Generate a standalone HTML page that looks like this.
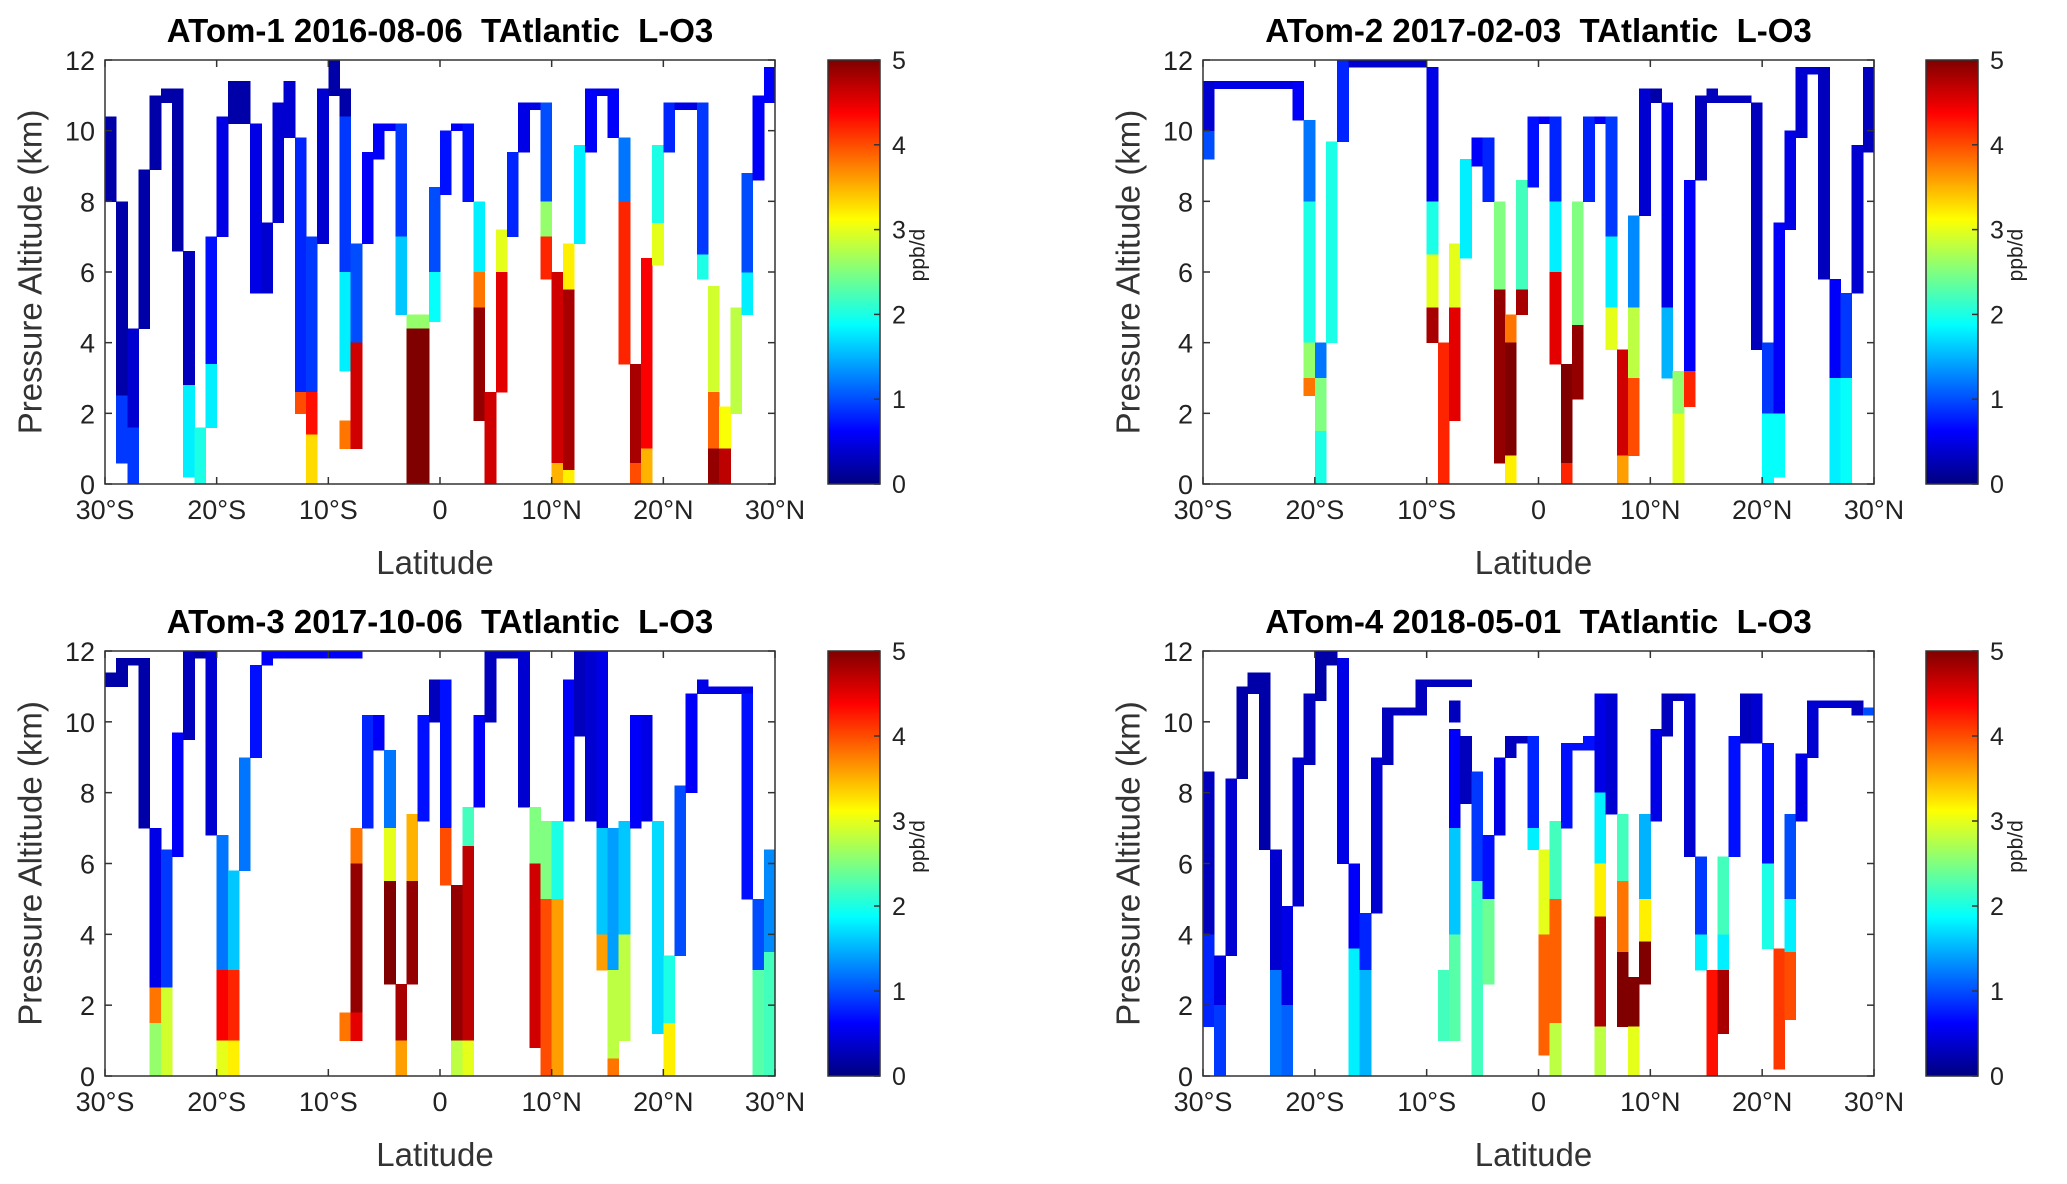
<!DOCTYPE html>
<html><head><meta charset="utf-8"><style>
html,body{margin:0;padding:0;background:#fff;}
svg{display:block;font-family:"Liberation Sans",sans-serif;}
</style></head><body>
<svg id="fig" width="2067" height="1184" viewBox="0 0 2067 1184" xmlns="http://www.w3.org/2000/svg"></svg>
<script>
// Data: segments [lat0, lat1, altBottomKm, altTopKm, ppb/d]
const p1Segs = [
[-30,-29,8.0,10.4,0.2],
[-29,-28,2.5,8.0,0.2],[-29,-28,0.6,2.5,0.9],
[-28,-27,1.6,4.4,0.4],[-28,-27,0,1.6,0.9],
[-27,-26,4.4,8.9,0.2],
[-26,-25,8.9,11.0,0.2],
[-25,-24,10.8,11.2,0.2],
[-24,-23,6.6,11.2,0.2],
[-23,-22,2.8,6.6,0.3],[-23,-22,0.2,2.8,1.8],
[-22,-21,0,1.6,2.0],
[-21,-20,3.4,7.0,0.7],[-21,-20,1.6,3.4,1.8],
[-20,-19,7.0,10.4,0.5],
[-19,-17,10.2,11.4,0.2],
[-17,-16,5.4,10.2,0.5],
[-16,-15,5.4,7.4,0.4],
[-15,-14,7.4,10.8,0.4],
[-14,-13,9.8,11.4,0.4],
[-13,-12,2.6,9.8,0.8],[-13,-12,2.0,2.6,4.0],
[-12,-11,2.6,7.0,0.9],[-12,-11,1.4,2.6,4.3],[-12,-11,0,1.4,3.3],
[-11,-10,6.8,11.2,0.4],
[-10,-9,11.0,12.0,0.2],
[-9,-8,10.4,11.2,0.2],[-9,-8,6,10.4,0.9],[-9,-8,3.2,6,1.8],[-9,-8,1.0,1.8,3.8],
[-8,-7,4.0,6.8,1.0],[-8,-7,1.0,4.0,4.6],
[-7,-6,6.8,9.4,0.6],
[-6,-5,9.2,10.2,0.6],
[-5,-4,10.0,10.2,0.6],
[-4,-3,7,10.2,0.9],[-4,-3,4.8,7,1.6],
[-3,-1,4.4,4.8,2.6],[-3,-1,0,4.4,5],
[-1,0,6,8.4,1.0],[-1,0,4.6,6,1.9],
[0,1,8.2,10.0,0.7],
[1,2,10.0,10.2,0.6],
[2,3,8.0,10.2,0.7],
[3,4,6.0,8.0,1.8],[3,4,5.0,6.0,3.8],[3,4,1.8,5.0,4.9],
[4,5,0,2.6,4.6],
[5,6,6,7.2,3.0],[5,6,2.6,6,4.5],
[6,7,7.0,9.4,0.8],
[7,8,9.4,10.8,0.5],
[8,9,10.6,10.8,0.5],
[9,10,8,10.8,1.0],[9,10,7,8,2.6],[9,10,5.8,7,4.2],
[10,11,0.6,6.0,4.6],[10,11,0,0.6,3.5],
[11,12,5.5,6.8,3.2],[11,12,0.4,5.5,4.8],[11,12,0,0.4,3.2],
[12,13,6.8,9.6,1.8],
[13,14,9.4,11.2,0.6],
[14,15,11.0,11.2,0.5],
[15,16,9.8,11.2,0.6],
[16,17,8,9.8,1.2],[16,17,3.4,8,4.2],
[17,18,0.6,3.4,4.8],[17,18,0,0.6,4.0],
[18,19,1.0,6.4,4.4],[18,19,0,1.0,3.5],
[19,20,6.2,7.4,3.0],[19,20,7.4,9.6,2.0],
[20,21,9.4,10.8,0.8],
[21,23,10.6,10.8,0.5],
[23,24,6.5,10.8,0.9],[23,24,5.8,6.5,2.0],
[24,25,2.6,5.6,2.9],[24,25,1.0,2.6,3.9],[24,25,0,1.0,4.9],
[25,26,1.0,2.2,3.1],[25,26,0,1.0,4.7],
[26,27,2.0,5.0,2.8],
[27,28,4.8,6.0,1.8],[27,28,6,8.8,1.0],
[28,29,8.6,11.0,0.6],
[29,30,10.8,11.8,0.6]
];
const p2Segs = [
[-30,-29,9.2,10,1.0],[-30,-29,10,11.4,0.4],
[-29,-22,11.2,11.4,0.5],
[-22,-21,10.3,11.4,0.6],
[-21,-20,8,10.3,1.2],[-21,-20,4,8,2.0],[-21,-20,3,4,2.6],[-21,-20,2.5,3,3.8],
[-20,-19,3,4.0,1.2],[-20,-19,1.5,3,2.5],[-20,-19,0,1.5,2.0],
[-19,-18,4.0,9.7,2.0],
[-18,-17,9.7,12,0.8],
[-17,-10,11.8,12,0.4],
[-10,-9,8,11.8,0.5],[-10,-9,6.5,8,2.0],[-10,-9,5,6.5,3.0],[-10,-9,4,5,4.8],
[-9,-8,0,4.0,4.2],
[-8,-7,5,6.8,3.0],[-8,-7,1.8,5,4.5],
[-7,-6,6.4,9.2,1.8],
[-6,-5,9.0,9.8,0.6],
[-5,-4,8.0,9.8,0.8],
[-4,-3,5.5,8,2.5],[-4,-3,0.6,5.5,4.9],
[-3,-2,4.0,4.8,3.8],[-3,-2,0.8,4,5],[-3,-2,0,0.8,3.2],
[-2,-1,5.5,8.6,2.2],[-2,-1,4.8,5.5,4.8],
[-1,0,8.4,10.4,0.7],
[0,1,10.2,10.4,0.6],
[1,2,8,10.4,0.8],[1,2,6,8,1.8],[1,2,3.4,6,4.5],
[2,3,0.6,3.4,5],[2,3,0,0.6,4.2],
[3,4,4.5,8.0,2.5],[3,4,2.4,4.5,4.9],
[4,5,8.0,10.4,0.8],
[5,6,10.2,10.4,0.6],
[6,7,7,10.4,0.9],[6,7,5,7,1.8],[6,7,3.8,5,3.0],
[7,8,0.8,3.8,4.6],[7,8,0,0.8,3.6],
[8,9,5,7.6,1.3],[8,9,3,5,2.8],[8,9,0.8,3,4.0],
[9,10,7.6,11.2,0.4],
[10,11,10.8,11.2,0.2],
[11,12,5,10.8,0.5],[11,12,3,5,1.5],
[12,13,2,3.2,2.6],[12,13,0,2,3.0],
[13,14,3.2,8.6,0.6],[13,14,2.2,3.2,4.2],
[14,15,8.6,11.0,0.3],
[15,16,10.8,11.2,0.3],
[16,19,10.8,11.0,0.3],
[19,20,3.8,10.8,0.3],
[20,21,2,4.0,0.9],[20,21,0,2,1.9],
[21,22,2,7.4,0.6],[21,22,0.2,2,1.9],
[22,23,7.2,10.0,0.5],
[23,24,9.8,11.8,0.4],
[24,25,11.6,11.8,0.4],
[25,26,5.8,11.8,0.3],
[26,27,3,5.8,0.6],[26,27,0,3,1.8],
[27,28,3,5.4,0.9],[27,28,0,3,1.9],
[28,29,5.4,9.6,0.4],
[29,30,9.4,11.8,0.3]
];
const p3Segs = [
[-30,-29,11.0,11.4,0.2],
[-29,-28,11.0,11.8,0.2],
[-28,-27,11.6,11.8,0.2],
[-27,-26,7.0,11.8,0.2],
[-26,-25,2.5,7,0.5],[-26,-25,1.5,2.5,3.8],[-26,-25,0,1.5,2.6],
[-25,-24,2.5,6.4,0.9],[-25,-24,0,2.5,2.9],
[-24,-23,6.2,9.7,0.6],
[-23,-22,9.5,12,0.3],
[-22,-21,11.8,12,0.2],
[-21,-20,6.8,12,0.4],
[-20,-19,3,6.8,1.2],[-20,-19,1,3,4.4],[-20,-19,0,1,3.0],
[-19,-18,3,5.8,1.6],[-19,-18,1,3,4.2],[-19,-18,0,1,3.2],
[-18,-17,5.8,9,1.2],
[-17,-16,9,11.6,0.7],
[-16,-15,11.6,12,0.6],
[-15,-7,11.8,12,0.6],
[-9,-8,1.0,1.8,3.8],
[-8,-7,6,7,3.8],[-8,-7,1.8,6,4.9],[-8,-7,1,1.8,4.5],
[-7,-6,7,10.2,0.8],
[-6,-5,9.2,10.2,0.6],
[-5,-4,7,9.2,1.2],[-5,-4,5.5,7,3.0],[-5,-4,2.6,5.5,5],
[-4,-3,1,2.6,4.8],[-4,-3,0,1,3.6],
[-3,-2,5.5,7.4,3.5],[-3,-2,2.6,5.5,4.9],
[-2,-1,7.2,10.2,0.7],
[-1,0,10,11.2,0.3],
[0,1,7,11.2,0.7],[0,1,5.4,7,4.0],
[1,2,1,5.4,4.9],[1,2,0,1,2.8],
[2,3,6.5,7.6,2.2],[2,3,1,6.5,4.7],[2,3,0,1,3.0],
[3,4,7.6,10.2,0.6],
[4,5,10,12,0.3],
[5,7,11.8,12,0.3],
[7,8,7.6,12,0.4],
[8,9,6,7.6,2.5],[8,9,0.8,6,4.6],
[9,10,5,7.2,2.5],[9,10,0,5,4.0],
[10,11,5,7.2,2.0],[10,11,0,5,3.6],
[11,12,7.2,11.2,0.6],
[12,13,9.6,12,0.3],
[13,14,7.2,12,0.4],
[14,15,7,12,0.5],[14,15,4,7,1.6],[14,15,3,4,3.6],
[15,16,3,7,1.4],[15,16,0.5,3,2.8],[15,16,0,0.5,3.8],
[16,17,4,7.2,1.6],[16,17,1,4,2.8],
[17,18,7,10.2,0.6],
[18,19,7.2,10.2,0.5],
[19,20,1.2,7.2,1.7],
[20,21,1.5,3.4,2.0],[20,21,0,1.5,3.2],
[21,22,3.4,8.2,1.0],
[22,23,8,10.8,0.6],
[23,24,10.8,11.2,0.5],
[24,28,10.8,11.0,0.5],
[27,28,5,10.8,0.7],
[28,29,3,5,1.0],[28,29,0,3,2.3],
[29,30,3.5,6.4,1.3],[29,30,0,3.5,2.2]
];
const p4Segs = [
[-30,-29,4,8.6,0.3],[-30,-29,1.4,4,0.8],
[-29,-28,2,3.4,0.5],[-29,-28,0,2,0.9],
[-28,-27,3.4,8.4,0.4],
[-27,-26,8.4,11.0,0.2],
[-26,-25,10.8,11.4,0.2],
[-25,-24,6.4,11.4,0.2],
[-24,-23,3,6.4,0.4],[-24,-23,0,3,1.2],
[-23,-22,2,4.8,0.5],[-23,-22,0,2,1.1],
[-22,-21,4.8,9,0.4],
[-21,-20,8.8,10.8,0.3],
[-20,-19,10.6,12,0.2],
[-19,-18,11.6,12,0.2],
[-18,-17,6,11.8,0.5],
[-17,-16,3.6,6,0.6],[-17,-16,0,3.6,1.8],
[-16,-15,3,4.6,0.8],[-16,-15,0,3,1.5],
[-15,-14,4.6,9,0.4],
[-14,-13,8.8,10.4,0.3],
[-13,-11,10.2,10.4,0.3],
[-11,-10,10.2,11.2,0.3],
[-10,-6,11.0,11.2,0.3],
[-9,-8,1.0,3.0,2.2],
[-8,-7,10,10.6,0.3],[-8,-7,7,9.8,0.6],[-8,-7,4,7,1.6],[-8,-7,1,4,2.3],
[-7,-6,7.7,9.6,0.3],
[-6,-5,5.5,8.6,0.9],[-6,-5,0,5.5,2.2],
[-5,-4,5,6.8,0.7],[-5,-4,2.6,5,2.4],
[-4,-3,6.8,9.0,0.5],
[-3,-2,9.0,9.6,0.3],
[-2,-1,9.4,9.6,0.3],
[-1,0,7,9.6,0.8],[-1,0,6.4,7,1.8],
[0,1,4,6.4,3.0],[0,1,0.6,4,3.9],
[1,2,5,7.2,2.2],[1,2,1.5,5,3.9],[1,2,0,1.5,2.8],
[2,3,7,9.4,0.7],
[3,4,9.2,9.4,0.7],
[4,5,9.2,9.6,0.7],
[5,6,8,10.8,0.5],[5,6,6,8,1.8],[5,6,4.5,6,3.2],[5,6,1.4,4.5,4.8],[5,6,0,1.4,2.8],
[6,7,7.4,10.8,0.4],
[7,8,5.5,7.4,2.2],[7,8,3.5,5.5,3.8],[7,8,1.4,3.5,5],
[8,9,1.4,2.8,5],[8,9,0,1.4,3.0],
[9,10,5,7.4,1.5],[9,10,3.8,5,3.2],[9,10,2.6,3.8,5],
[10,11,7.2,9.8,0.5],
[11,12,9.6,10.8,0.3],
[12,13,10.6,10.8,0.3],
[13,14,6.2,10.8,0.4],
[14,15,4,6.2,0.9],[14,15,3,4,1.8],
[15,16,0,3,4.3],
[16,17,4,6.2,2.2],[16,17,3,4,1.8],[16,17,1.2,3,4.8],
[17,18,6.2,9.6,0.7],
[18,19,9.4,10.8,0.3],
[19,20,9.4,10.8,0.4],
[20,21,6,9.4,0.7],[20,21,3.6,6,2.0],
[21,22,0.2,3.6,4.1],
[22,23,5,7.4,1.0],[22,23,3.5,5,1.8],[22,23,1.6,3.5,4.0],
[23,24,7.2,9.1,0.5],
[24,25,9.0,10.6,0.4],
[25,28,10.4,10.6,0.4],
[28,29,10.2,10.6,0.3],
[29,30,10.2,10.4,1.0]
];
const panelTitles = ["ATom-1 2016-08-06\u00a0\u00a0TAtlantic\u00a0\u00a0L-O3","ATom-2 2017-02-03\u00a0\u00a0TAtlantic\u00a0\u00a0L-O3","ATom-3 2017-10-06\u00a0\u00a0TAtlantic\u00a0\u00a0L-O3","ATom-4 2018-05-01\u00a0\u00a0TAtlantic\u00a0\u00a0L-O3"];
const xTicks = [-30,-20,-10,0,10,20,30];
const xTickLabels = ["30°S","20°S","10°S","0","10°N","20°N","30°N"];
const yTicks = [0,2,4,6,8,10,12];
const cbTicks = [0,1,2,3,4,5];

const NS="http://www.w3.org/2000/svg";
const svg=document.getElementById('fig');
function mk(tag,attrs,parent){const e=document.createElementNS(NS,tag);for(const k in attrs)e.setAttribute(k,attrs[k]);(parent||svg).appendChild(e);return e;}
function jet(v){const t=Math.max(0,Math.min(1,v/5));const c=x=>Math.round(255*Math.max(0,Math.min(1,1.5-Math.abs(x))));return `rgb(${c(4*t-3)},${c(4*t-2)},${c(4*t-1)})`;}

const defs=mk('defs',{});
const grad=mk('linearGradient',{id:'jetg',x1:0,y1:1,x2:0,y2:0},defs);
for(let i=0;i<=40;i++){mk('stop',{offset:(i/40),'stop-color':jet(i/40*5)},grad);}

const layouts=[{x0:105,x1:775,y0:60,y1:484,cb:828},{x0:1203,x1:1874,y0:60,y1:484,cb:1926},{x0:105,x1:775,y0:651,y1:1076,cb:828},{x0:1203,x1:1874,y0:651,y1:1076,cb:1926}];
const allSegs=[p1Segs,p2Segs,p3Segs,p4Segs];

layouts.forEach((L,pi)=>{
  const g=mk('g',{});
  
  
  const xs=lat=>L.x0+(lat+30)/60*(L.x1-L.x0);
  const ys=km=>L.y1-km/12*(L.y1-L.y0);
  const cx=(L.x0+L.x1)/2;
  const t=mk('text',{x:cx,y:L.y0-18,'text-anchor':'middle','font-size':33,'font-weight':'bold',fill:'#000'},g);
  t.textContent=panelTitles[pi];
  
  
  const bg=mk('rect',{x:L.x0,y:L.y0,width:L.x1-L.x0,height:L.y1-L.y0,fill:'#fff'},g);
  
  
  const cg=mk('g',{'shape-rendering':'crispEdges'},g);
  
  
  allSegs[pi].forEach(s=>{
    const x=xs(s[0]),w=xs(s[1])-x,yt=ys(s[3]),h=ys(s[2])-yt;
    const r=mk('rect',{x:x,y:yt,width:w+0.5,height:h+0.5,fill:jet(s[4])},cg);
    
    
  });
  const frame=mk('rect',{x:L.x0,y:L.y0,width:L.x1-L.x0,height:L.y1-L.y0,fill:'none',stroke:'#333','stroke-width':1.5},g);
  
  
  xTicks.forEach((v,i)=>{
    const x=xs(v);
    mk('line',{x1:x,x2:x,y1:L.y1,y2:L.y1-7,stroke:'#333','stroke-width':1.5},g);
    mk('line',{x1:x,x2:x,y1:L.y0,y2:L.y0+7,stroke:'#333','stroke-width':1.5},g);
    const tl=mk('text',{x:x,y:L.y1+35,'text-anchor':'middle','font-size':27,fill:'#222'},g);
    tl.textContent=xTickLabels[i];
    
    
  });
  yTicks.forEach(v=>{
    const y=ys(v);
    mk('line',{x1:L.x0,x2:L.x0+7,y1:y,y2:y,stroke:'#333','stroke-width':1.5},g);
    mk('line',{x1:L.x1,x2:L.x1-7,y1:y,y2:y,stroke:'#333','stroke-width':1.5},g);
    const tl=mk('text',{x:L.x0-10,y:y+10,'text-anchor':'end','font-size':27,fill:'#222'},g);
    tl.textContent=String(v);
    
    
  });
  const xl=mk('text',{x:cx-5,y:L.y1+90,'text-anchor':'middle','font-size':33,fill:'#333'},g);
  xl.textContent='Latitude';
  
  
  const ylx=L.x0-75, yly=(L.y0+L.y1)/2;
  const yl=mk('text',{x:ylx,y:yly,'text-anchor':'middle','font-size':33,fill:'#333',transform:`rotate(-90 ${ylx} ${yly})`,'dominant-baseline':'central'},g);
  yl.textContent='Pressure Altitude (km)';
  
  
  const cbw=52;
  const cb=mk('rect',{x:L.cb,y:L.y0,width:cbw,height:L.y1-L.y0,fill:'url(#jetg)',stroke:'#333','stroke-width':1.5},g);
  
  
  cbTicks.forEach(v=>{
    const y=L.y1-v/5*(L.y1-L.y0);
    mk('line',{x1:L.cb+cbw,x2:L.cb+cbw-6,y1:y,y2:y,stroke:'#333','stroke-width':1.5},g);
    const tl=mk('text',{x:L.cb+cbw+12,y:y+9,'font-size':25,fill:'#222'},g);
    tl.textContent=String(v);
    
    
  });
  const cbx=L.cb+cbw+38, cby=L.y0+(L.y1-L.y0)*0.46;
  const cl=mk('text',{x:cbx,y:cby,'text-anchor':'middle','font-size':21,fill:'#222',transform:`rotate(-90 ${cbx} ${cby})`,'dominant-baseline':'central'},g);
  cl.textContent='ppb/d';
  
  
});
</script>
</body></html>
